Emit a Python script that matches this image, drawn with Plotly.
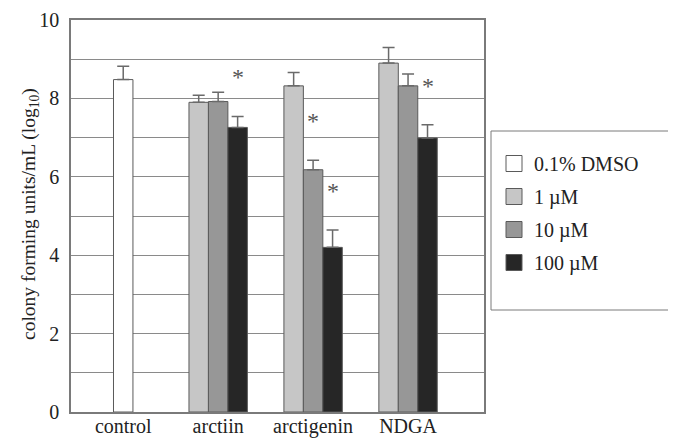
import plotly.graph_objects as go

categories = ["control", "arctiin", "arctigenin", "NDGA"]
series_names = ["0.1% DMSO", "1 µM", "10 µM", "100 µM"]

dmso_values = [8.48, None, None, None]
dmso_err = [0.34, 0, 0, 0]
um1_values = [None, 7.90, 8.32, 8.90]
um1_err = [0, 0.18, 0.34, 0.40]
um10_values = [None, 7.92, 6.18, 8.32]
um10_err = [0, 0.24, 0.24, 0.30]
um100_values = [None, 7.26, 4.20, 6.99]
um100_err = [0, 0.28, 0.44, 0.34]

# significance markers: (category, series index)
sig_marks = [("arctiin", 3), ("arctigenin", 2), ("arctigenin", 3), ("NDGA", 3)]

y_ticks = [0, 2, 4, 6, 8, 10]

FONT = "Liberation Serif, Times New Roman, serif"
colors = ["#ffffff", "#c6c6c6", "#979797", "#262626"]
W = 0.205
offsets = [-W / 2, -1.5 * W, -0.5 * W, 0.5 * W]

all_vals = [dmso_values, um1_values, um10_values, um100_values]
all_err = [dmso_err, um1_err, um10_err, um100_err]

fig = go.Figure()
for i in range(4):
    fig.add_trace(go.Bar(
        x=categories, y=all_vals[i], name=series_names[i],
        width=W, offset=offsets[i], showlegend=False,
        marker=dict(color=colors[i], line=dict(color="#5a5a5a", width=1)),
        error_y=dict(type="data", symmetric=False, array=all_err[i],
                     arrayminus=[0] * 4, color="#6a6a6a", thickness=1.5, width=6),
    ))
# legend entries (square swatches)
for i in range(4):
    fig.add_trace(go.Scatter(
        x=[None], y=[None], mode="markers", name=series_names[i],
        marker=dict(symbol="square", size=18, color=colors[i],
                    line=dict(color="#5a5a5a", width=1)),
        legendgroup=str(i), showlegend=True,
    ))

for cat, si in sig_marks:
    ci = categories.index(cat)
    top = all_vals[si][ci] + all_err[si][ci]
    fig.add_annotation(
        x=ci + offsets[si] + W / 2, y=top, xref="x", yref="y",
        text="*", showarrow=False, yshift=39,
        font=dict(family=FONT, size=24, color="#555555"),
    )

# y-axis title
fig.add_annotation(
    x=(22 - 63) / 413, y=(404 - 206) / 392, xref="paper", yref="paper", textangle=-90,
    text="colony forming units/mL (log<sub>10</sub>)", showarrow=False,
    font=dict(family=FONT, size=19.5, color="#222222"),
    xanchor="center", yanchor="middle",
)

fig.add_shape(type="rect", xref="paper", yref="paper",
              x0=(483 - 63) / 413, x1=(673 - 63) / 413,
              y0=(404 - 302) / 392, y1=(404 - 123) / 392,
              line=dict(color="#7a7a7a", width=1), fillcolor="rgba(0,0,0,0)")

fig.update_layout(
    width=676, height=439,
    margin=dict(l=63, r=200, t=12, b=35, autoexpand=False),
    paper_bgcolor="white", plot_bgcolor="white",
    barmode="overlay",
    font=dict(family=FONT, size=20, color="#222222"),
    showlegend=True,
    legend=dict(x=(486 - 63) / 413, y=(404 - 136) / 392, xanchor="left", yanchor="top",
                bgcolor="rgba(0,0,0,0)", borderwidth=0,
                font=dict(family=FONT, size=20, color="#222222"),
                tracegroupgap=4, traceorder="grouped"),
    xaxis=dict(type="category", range=[-0.55, 3.80], showgrid=False,
               showline=True, linecolor="#7a7a7a", linewidth=1.5, mirror=True,
               ticks="", ticklabelstandoff=-5,
               tickfont=dict(family=FONT, size=20, color="#222222")),
    yaxis=dict(range=[0, 10], tickvals=y_ticks, showgrid=True, gridcolor="#8a8a8a",
               gridwidth=1, showline=True, linecolor="#7a7a7a", linewidth=1.5,
               mirror=True, ticks="", ticklabelstandoff=6,
               tickfont=dict(family=FONT, size=20, color="#222222"),
               minor=dict(dtick=1, showgrid=True, gridcolor="#8a8a8a", gridwidth=1)),
)

fig.write_html("out.html")
